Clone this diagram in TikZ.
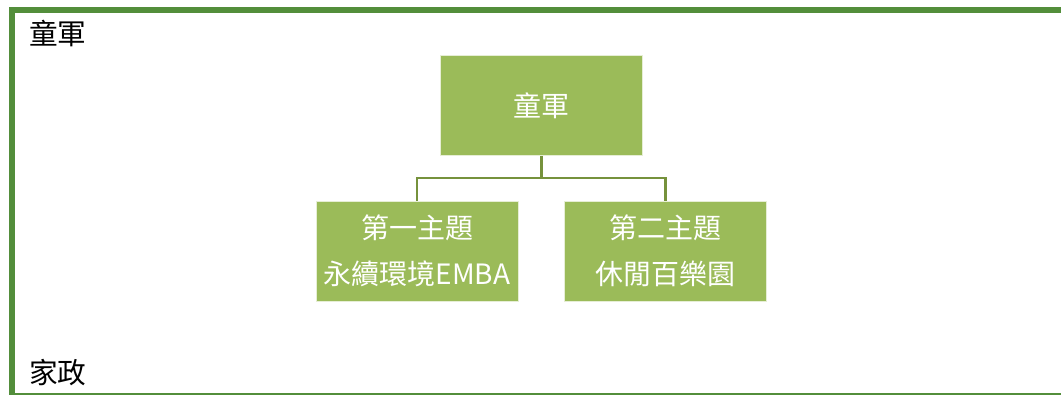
\documentclass[tikz,border=0pt]{standalone}
\usepackage{fontspec}
\newfontfamily\cjk{Noto Sans CJK TC}
\usetikzlibrary{positioning}
\definecolor{framegreen}{RGB}{83,142,59}
\definecolor{boxgreen}{RGB}{155,187,89}
\definecolor{linkgreen}{RGB}{118,146,60}

\begin{document}
\begin{tikzpicture}[x=0.75pt,y=-0.75pt,
    box/.style={fill=boxgreen, draw=white!75!boxgreen, line width=0.6pt, text=white,
      minimum width=151.5pt, minimum height=75pt, inner sep=0pt, align=center,
      font=\cjk\fontsize{21}{34.5}\selectfont},
    link/.style={draw=linkgreen, line width=2.2pt},
    heading/.style={anchor=base west, inner sep=0pt, font=\cjk\fontsize{21.5}{26}\selectfont}]
    \useasboundingbox (0,0) rectangle (1061,395);
    % frame
    \draw[framegreen, line width=4.5pt] (12,395) -- (12,10) -- (1061,10);
    \draw[framegreen, line width=1.5pt] (12,394) -- (1061,394);
    \node[heading] (scout) at (29,45) {童軍};
    \node[heading] (home) at (29,384) {家政};
    % chart
    \node[box] (top) at (541.5,105.5) {童軍};
    \node[box] (first) at (417,251) {第一主題\\永續環境EMBA};
    \node[box] (second) at (665.5,251) {第二主題\\休閒百樂園};
    \coordinate (fork) at (541.5,178);
    \draw[link] (top.south) -- (fork);
    \draw[link] (first.north) |- (fork) -| (second.north);
  \end{tikzpicture}
\end{document}
